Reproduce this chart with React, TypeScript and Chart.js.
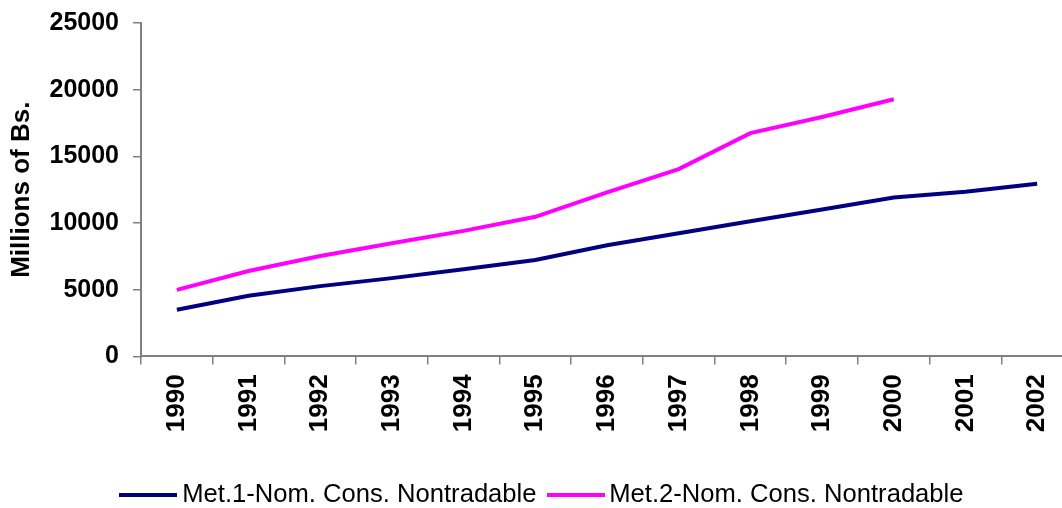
import React, { useEffect, useRef } from "react";
import { Chart, registerables } from "chart.js";

Chart.register(...registerables);

const years = ["1990", "1991", "1992", "1993", "1994", "1995", "1996", "1997", "1998", "1999", "2000", "2001", "2002"];
const met1 = [3500, 4550, 5270, 5870, 6530, 7230, 8330, 9230, 10140, 11020, 11920, 12350, 12950];
const met2 = [4990, 6400, 7530, 8480, 9410, 10470, 12300, 14050, 16740, 17950, 19280, null, null];
const seriesNames = ["Met.1-Nom. Cons. Nontradable", "Met.2-Nom. Cons. Nontradable"];
const seriesColors = ["#000080", "#FF00FF"];
const yTicks = [0, 5000, 10000, 15000, 20000, 25000];

const FONT = "'Liberation Sans', Arial, sans-serif";

function lineSwatch(color: string): HTMLCanvasElement {
  const c = document.createElement("canvas");
  c.width = 58;
  c.height = 4;
  const g = c.getContext("2d")!;
  g.fillStyle = color;
  g.fillRect(0, 0, 58, 4);
  return c;
}

const shiftLegend = {
  id: "shiftLegend",
  afterLayout(chart: any) {
    const lg = chart.legend;
    if (lg) {
      lg.left += 9;
      lg.right += 9;
    }
  },
};

export default function App() {
  const ref = useRef<HTMLCanvasElement>(null);
  useEffect(() => {
    if (!ref.current) return;
    const swatches = seriesColors.map(lineSwatch);
    const chart = new Chart(ref.current, {
      type: "line",
      data: {
        labels: years,
        datasets: [
          {
            label: seriesNames[0],
            data: met1,
            borderColor: seriesColors[0],
            backgroundColor: seriesColors[0],
            borderWidth: 4,
            pointRadius: 0,
            tension: 0,
            pointStyle: swatches[0] as any,
          },
          {
            label: seriesNames[1],
            data: met2,
            borderColor: seriesColors[1],
            backgroundColor: seriesColors[1],
            borderWidth: 4,
            pointRadius: 0,
            tension: 0,
            spanGaps: false,
            pointStyle: swatches[1] as any,
          },
        ],
      },
      plugins: [shiftLegend],
      options: {
        animation: false,
        responsive: true,
        maintainAspectRatio: false,
        layout: { padding: { left: 0, right: 17, top: 23, bottom: -10 } },
        plugins: {
          tooltip: { enabled: false },
          legend: {
            position: "bottom",
            labels: {
              usePointStyle: true,
              pointStyleWidth: 42,
              padding: 18,
              color: "#000",
              font: { family: FONT, size: 25.6 },
            },
          },
        },
        scales: {
          x: {
            type: "category",
            offset: true,
            grid: {
              offset: true,
              drawOnChartArea: false,
              drawTicks: true,
              tickLength: 8,
              color: "#808080",
              lineWidth: 1.5,
            },
            border: { color: "#808080", width: 2 },
            ticks: {
              minRotation: 90,
              maxRotation: 90,
              padding: 10,
              color: "#000",
              font: { family: FONT, size: 26, weight: "bold" },
            },
            afterFit: (s: any) => {
              s.height = 108;
            },
          },
          y: {
            min: 0,
            max: 25000,
            afterBuildTicks: (s: any) => {
              s.ticks = yTicks.map((v) => ({ value: v }));
            },
            grid: {
              drawOnChartArea: false,
              drawTicks: true,
              tickLength: 8,
              color: "#808080",
              lineWidth: 1.5,
            },
            border: { color: "#808080", width: 2 },
            ticks: {
              padding: 14,
              color: "#000",
              font: { family: FONT, size: 25, weight: "bold" },
              callback: (v: any) => String(v),
            },
            title: {
              display: true,
              text: "Millions of Bs.",
              color: "#000",
              padding: { top: 6, bottom: 0 },
              font: { family: FONT, size: 26, weight: "bold" },
            },
            afterFit: (s: any) => {
              s.width = 141;
              s.paddingTop = 0;
              s.paddingBottom = 0;
            },
          },
        },
      },
    });
    return () => chart.destroy();
  }, []);
  return (
    <div style={{ position: "fixed", left: 0, top: 0, width: 1090, height: 508, background: "#fff" }}>
      <canvas ref={ref} />
    </div>
  );
}
